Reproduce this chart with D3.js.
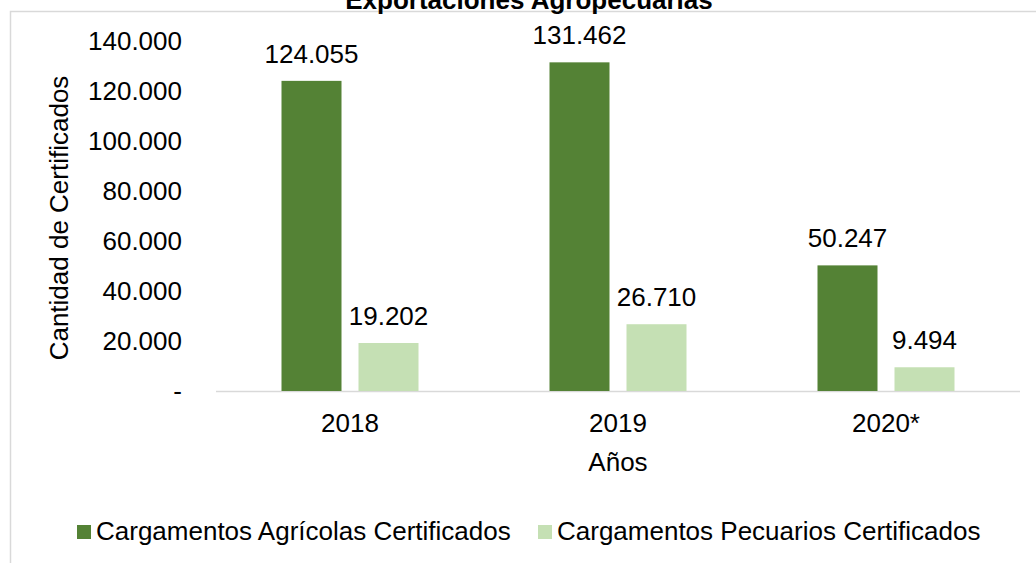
<!DOCTYPE html>
<html>
<head>
<meta charset="utf-8">
<script src="https://cdn.jsdelivr.net/npm/d3@7"></script>
<style>
  body { margin: 0; background: #fff; }
  text { font-family: "Liberation Sans", Arial, sans-serif; fill: #000; font-size: 26px; }
</style>
</head>
<body>
<svg width="1036" height="563"></svg>
<script>
var years = ["2018", "2019", "2020*"];
var series = ["Cargamentos Agrícolas Certificados", "Cargamentos Pecuarios Certificados"];
var agricolas = [124055, 131462, 50247];
var pecuarios = [19202, 26710, 9494];
var yTicks = [0, 20000, 40000, 60000, 80000, 100000, 120000, 140000];
var colors = ["#548235", "#c5e0b4"];

var svg = d3.select("svg");
var plot = { l: 216, r: 1020, t: 41, b: 391 };

var fmt = function (v) {
  if (v === 0) return "-";
  return d3.format(",")(v).replace(/,/g, ".");
};

// chart area border (runs off the right/bottom edge)
svg.append("path")
  .attr("d", "M10.5,600 V11.5 H1100")
  .attr("fill", "none")
  .attr("stroke", "#d9d9d9")
  .attr("stroke-width", 1.5);

// title, cut off at the top like the original
svg.append("text")
  .attr("x", 529).attr("y", 9)
  .attr("text-anchor", "middle")
  .style("font-weight", "bold")
  .text("Exportaciones Agropecuarias");

var x0 = d3.scaleBand().domain(years).range([plot.l, plot.r]);
var y = d3.scaleLinear().domain([0, 140000]).range([plot.b, plot.t]);

var data = years.map(function (yr, i) {
  return { year: yr, vals: [agricolas[i], pecuarios[i]] };
});

// y labels
svg.append("g").selectAll("text")
  .data(yTicks).enter().append("text")
  .attr("x", 182)
  .attr("y", function (d) { return y(d) + 9; })
  .attr("text-anchor", "end")
  .text(fmt);

// baseline
svg.append("line")
  .attr("x1", plot.l).attr("x2", plot.r)
  .attr("y1", y(0) + 0.5).attr("y2", y(0) + 0.5)
  .attr("stroke", "#d9d9d9").attr("stroke-width", 1.5);

var barW = 60, gap = 17;
var groups = svg.selectAll(".grp").data(data).enter().append("g")
  .attr("class", "grp")
  .attr("transform", function (d) {
    return "translate(" + (x0(d.year) + x0.bandwidth() / 2) + ",0)";
  });

groups.each(function (d) {
  var g = d3.select(this);
  d.vals.forEach(function (v, j) {
    var bx = j === 0 ? -(barW + gap / 2) : gap / 2;
    g.append("rect")
      .attr("x", bx).attr("width", barW)
      .attr("y", y(v)).attr("height", y(0) - y(v))
      .attr("fill", colors[j]);
    g.append("text")
      .attr("x", bx + barW / 2)
      .attr("y", y(v) - 18)
      .attr("text-anchor", "middle")
      .text(fmt(v));
  });
  g.append("text")
    .attr("x", 0).attr("y", 432)
    .attr("text-anchor", "middle")
    .text(d.year);
});

// axis titles
svg.append("text")
  .attr("x", 618).attr("y", 471)
  .attr("text-anchor", "middle")
  .text("Años");

svg.append("text")
  .attr("transform", "translate(68,218) rotate(-90)")
  .attr("text-anchor", "middle")
  .text("Cantidad de Certificados");

// legend
var legX = [77, 538];
series.forEach(function (s, i) {
  svg.append("rect")
    .attr("x", legX[i]).attr("y", 525)
    .attr("width", 14).attr("height", 14)
    .attr("fill", colors[i]);
  svg.append("text")
    .attr("x", legX[i] + 19).attr("y", 540)
    .text(s);
});
</script>
</body>
</html>
